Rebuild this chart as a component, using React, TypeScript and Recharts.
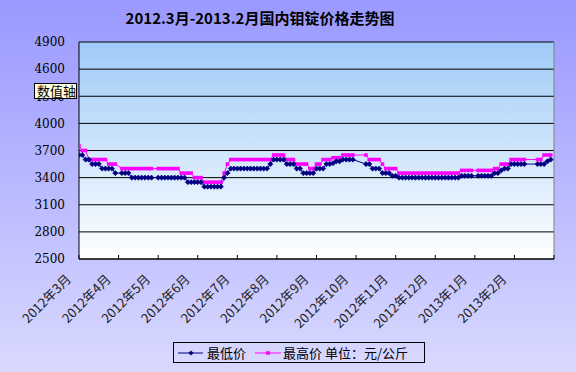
import React from 'react';
import { LineChart, Line, XAxis, YAxis, CartesianGrid, ReferenceLine } from 'recharts';

const titleText = '2012.3月-2013.2月国内钼锭价格走势图';
const months = [
  '2012年3月', '2012年4月', '2012年5月', '2012年6月', '2012年7月', '2012年8月',
  '2012年9月', '2012年10月', '2012年11月', '2012年12月', '2013年1月', '2013年2月',
];
const yTicks = [2500, 2800, 3100, 3400, 3700, 4000, 4300, 4600, 4900];

// 12 sample points per month; null = no quote (holiday)
const lowPrice: (number | null)[] = [
  3650, 3650, 3600, 3600, 3550, 3550, 3550, 3500, 3500, 3500, 3500, 3450,
  null, 3450, 3450, 3450, 3400, 3400, 3400, 3400, 3400, 3400, 3400, null,
  3400, 3400, 3400, 3400, 3400, 3400, 3400, 3400, 3400, 3350, 3350, 3350,
  3350, 3350, 3300, 3300, 3300, 3300, 3300, 3300, 3400, 3450, 3500, 3500,
  3500, 3500, 3500, 3500, 3500, 3500, 3500, 3500, 3500, 3500, 3550, 3600,
  3600, 3600, 3600, 3550, 3550, 3550, 3500, 3500, 3450, 3450, 3450, 3450,
  3500, 3500, 3500, 3550, 3550, 3560, 3580, 3580, 3600, 3600, 3600, 3600,
  null, null, null, 3550, 3550, 3500, 3500, 3500, 3450, 3450, 3450, 3420,
  3420, 3400, 3400, 3400, 3400, 3400, 3400, 3400, 3400, 3400, 3400, 3400,
  3400, 3400, 3400, 3400, 3400, 3400, 3400, 3400, 3420, 3420, 3420, 3420,
  null, 3420, 3420, 3420, 3420, 3420, 3450, 3450, 3480, 3500, 3500, 3550,
  3550, 3550, 3550, 3550, null, null, null, 3550, 3550, 3550, 3580, 3600,
];
const highPrice: (number | null)[] = [
  3750, 3700, 3700, 3600, 3600, 3600, 3600, 3600, 3600, 3550, 3550, 3550,
  null, 3500, 3500, 3500, 3500, 3500, 3500, 3500, 3500, 3500, 3500, null,
  3500, 3500, 3500, 3500, 3500, 3500, 3500, 3450, 3450, 3450, 3450, 3400,
  3400, 3400, 3350, 3350, 3350, 3350, 3350, 3350, 3450, 3550, 3600, 3600,
  3600, 3600, 3600, 3600, 3600, 3600, 3600, 3600, 3600, 3600, 3600, 3650,
  3650, 3650, 3650, 3600, 3600, 3600, 3550, 3550, 3550, 3550, 3500, 3500,
  3550, 3550, 3600, 3600, 3600, 3620, 3620, 3620, 3650, 3650, 3650, 3650,
  null, null, null, 3650, 3600, 3600, 3600, 3600, 3550, 3500, 3500, 3500,
  3500, 3450, 3450, 3450, 3450, 3450, 3450, 3450, 3450, 3450, 3450, 3450,
  3450, 3450, 3450, 3450, 3450, 3450, 3450, 3450, 3480, 3480, 3480, 3480,
  null, 3480, 3480, 3480, 3480, 3480, 3500, 3500, 3550, 3550, 3550, 3600,
  3600, 3600, 3600, 3600, null, null, null, 3600, 3600, 3650, 3650, 3650,
];
const legendLow = '最低价';
const legendHigh = '最高价 单位：元/公斤';
const axisTip = '数值轴';

const perMonth = lowPrice.length / months.length;
const data = lowPrice.map((v, i) => ({ i, low: v, high: highPrice[i] }));
const xTicks = months.map((_, k) => k * perMonth).concat(months.length * perMonth);

const LOW_COLOR = '#000080';
const HIGH_COLOR = '#FF00FF';

const DiamondDot = (props: any) => {
  const { cx, cy, index } = props;
  if (cx == null || cy == null || isNaN(cy)) return <g key={`ld${index}`} />;
  const r = 2.6;
  return (
    <polygon
      key={`ld${index}`}
      points={`${cx},${cy - r} ${cx + r},${cy} ${cx},${cy + r} ${cx - r},${cy}`}
      fill={LOW_COLOR}
      stroke={LOW_COLOR}
      strokeWidth={0.6}
    />
  );
};

const SquareDot = (props: any) => {
  const { cx, cy, index } = props;
  if (cx == null || cy == null || isNaN(cy)) return <g key={`hd${index}`} />;
  const s = 3.6;
  return <rect key={`hd${index}`} x={cx - s / 2} y={cy - s / 2} width={s} height={s} fill={HIGH_COLOR} />;
};

const XTick = (props: any) => {
  const { x, y, payload } = props;
  const m = Math.round(payload.value / perMonth);
  const ax = x - 7;
  const ay = y + 21;
  return (
    <g>
      <line x1={x} x2={x} y1={y} y2={y - 4} stroke="#000" strokeWidth={1} />
      {m < months.length && (
        <text
          x={ax}
          y={ay}
          textAnchor="end"
          transform={`rotate(-45, ${ax}, ${ay})`}
          fontSize={13}
          fontFamily="'Noto Sans CJK SC', sans-serif"
          fill="#222"
        >
          {months[m]}
        </text>
      )}
    </g>
  );
};

export default function App() {
  return (
    <div
      style={{
        position: 'absolute',
        left: 0,
        top: 0,
        width: 576,
        height: 372,
        overflow: 'hidden',
        background: 'linear-gradient(to bottom, #9999FF 0%, #D9D9FF 100%)',
        fontFamily: "'Noto Sans CJK SC', sans-serif",
      }}
    >
      <div
        style={{
          position: 'absolute',
          left: 0,
          width: 520,
          top: 8,
          textAlign: 'center',
          fontSize: 15,
          fontWeight: 'bold',
          color: '#000',
          lineHeight: '20px',
        }}
      >
        {titleText}
      </div>
      <LineChart
        width={576}
        height={372}
        data={data}
        margin={{ top: 42, right: 22, bottom: 83, left: 0 }}
      >
        <defs>
          <linearGradient id="plotBg" x1="0" y1="0" x2="0" y2="1">
            <stop offset="0%" stopColor="#9FCBF7" />
            <stop offset="100%" stopColor="#FFFFFF" />
          </linearGradient>
        </defs>
        <CartesianGrid
          vertical={false}
          stroke="#000"
          strokeOpacity={1}
          fill="url(#plotBg)"
          fillOpacity={1}
        />
        <XAxis
          dataKey="i"
          type="number"
          domain={[0, months.length * perMonth]}
          ticks={xTicks}
          interval={0}
          height={30}
          tickSize={0}
          tickMargin={0}
          tickLine={false}
          axisLine={{ stroke: '#000' }}
          tick={<XTick />}
          allowDataOverflow
        />
        <YAxis
          type="number"
          domain={[2500, 4900]}
          ticks={yTicks}
          interval={0}
          width={79}
          tickSize={0}
          tickMargin={14}
          tickLine={false}
          axisLine={{ stroke: '#000' }}
          tick={{ fontSize: 12, fontFamily: "'DejaVu Serif', serif", fill: '#000' }}
          allowDataOverflow
        />
        <ReferenceLine x={months.length * perMonth} stroke="#808080" strokeWidth={1} />
        <Line
          dataKey="high"
          stroke={HIGH_COLOR}
          strokeWidth={1}
          dot={<SquareDot />}
          activeDot={false}
          connectNulls
          isAnimationActive={false}
        />
        <Line
          dataKey="low"
          stroke={LOW_COLOR}
          strokeWidth={1}
          dot={<DiamondDot />}
          activeDot={false}
          connectNulls
          isAnimationActive={false}
        />
      </LineChart>
      <div
        style={{
          position: 'absolute',
          left: 34,
          top: 83,
          width: 43,
          height: 16,
          boxSizing: 'border-box',
          border: '1px solid #000',
          background: '#FFFFE1',
          fontSize: 13,
          lineHeight: '14px',
          paddingLeft: 2,
          color: '#000',
        }}
      >
        {axisTip}
      </div>
      <div
        style={{
          position: 'absolute',
          left: 173,
          top: 342,
          width: 252,
          height: 21,
          boxSizing: 'border-box',
          border: '1px solid #000',
          fontSize: 13,
          color: '#000',
        }}
      >
        <svg width={250} height={19} style={{ position: 'absolute', left: 0, top: 0 }}>
          <line x1={4} x2={29} y1={10} y2={10} stroke={LOW_COLOR} strokeWidth={1} />
          <polygon points="17,7.4 19.6,10 17,12.6 14.4,10" fill={LOW_COLOR} />
          <line x1={81} x2={107} y1={10} y2={10} stroke={HIGH_COLOR} strokeWidth={1} />
          <rect x={92.2} y={8.2} width={3.6} height={3.6} fill={HIGH_COLOR} />
        </svg>
        <span style={{ position: 'absolute', left: 33, top: 0, lineHeight: '19px', whiteSpace: 'nowrap' }}>{legendLow}</span>
        <span style={{ position: 'absolute', left: 109, top: 0, lineHeight: '19px', whiteSpace: 'nowrap' }}>{legendHigh}</span>
      </div>
    </div>
  );
}
